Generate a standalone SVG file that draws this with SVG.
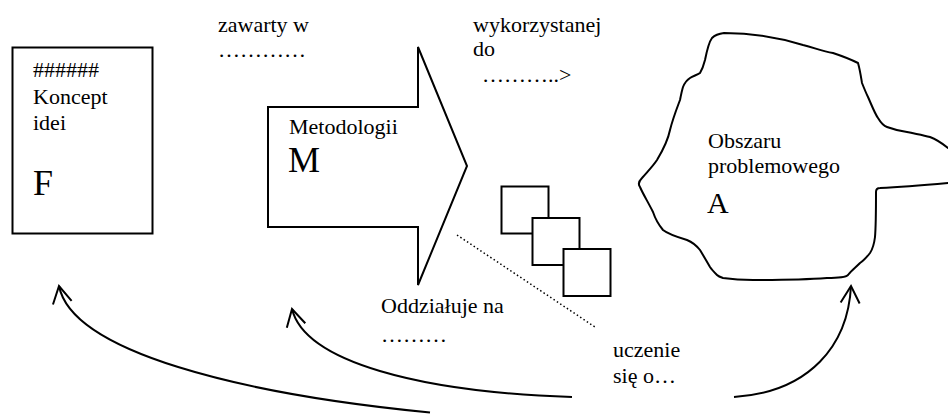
<svg xmlns="http://www.w3.org/2000/svg" width="948" height="414" viewBox="0 0 948 414" font-family="'Liberation Serif', 'Times New Roman', 'DejaVu Serif', serif">
  <style>
    text { font-family: "Liberation Serif", "Times New Roman", "DejaVu Serif", serif; fill: #000; }
    .t { font-size: 22px; }
    .big { font-size: 36px; }
    .shape { fill: #fff; stroke: #000; stroke-width: 2; stroke-linejoin: miter; }
    .blob { fill: #fff; stroke: #000; stroke-width: 2; stroke-linejoin: round; stroke-linecap: round; }
    .curve { fill: none; stroke: #000; stroke-width: 2; }
    .dotted { fill: none; stroke: #000; stroke-width: 1.5; stroke-dasharray: 1.5 2.5; }
  </style>
  <defs>
    <marker id="openArrow" markerUnits="userSpaceOnUse" viewBox="-20 -12 22 24" refX="0" refY="0" markerWidth="22" markerHeight="24" orient="auto" overflow="visible">
      <path d="M-17,-9.5 L0,0 L-17,9.5" fill="none" stroke="#000" stroke-width="2"/>
    </marker>
  </defs>
  <rect width="948" height="414" fill="#fff"/>

  <g id="node-F">
    <rect class="shape" x="12.5" y="47.5" width="140" height="186"/>
    <text class="t" x="33" y="77">######</text>
    <text class="t" x="33" y="104">Koncept</text>
    <text class="t" x="33" y="130">idei</text>
    <text class="big" x="33" y="195">F</text>
  </g>

  <g id="node-M">
    <polygon class="shape" points="268,107 418,107 418,47 467,166 418,285 418,227 268,227"/>
    <text class="t" x="289" y="134">Metodologii</text>
    <text class="big" x="288" y="172">M</text>
  </g>

  <g id="node-A">
    <path class="blob" d="M712,38 Q716,34 724,33 C750,33 780,38 803,45 C815,48 822,51 833,53 C845,57 852,60 858,63 C860,70 861,77 862,83 C864,88 866,93 868,97 C872,106 875,114 878,118 C881,123 884,126 887,127 C895,130 900,131 907,132 C916,134 923,135 930,137 C938,140 943,144 948,148 L965,155 L965,182 L948,183 C925,185 900,187 880,188 Q876,188 876,192 C876,210 876,225 875,237 C874,245 872,250 870,253 C866,258 863,261 860,263 C855,268 851,271 848,275 Q845,278 827,278 C800,280 775,280 753,280 C740,280 730,279 723,278 C720,277 718,276 717,275 C714,272 712,270 710,267 C706,260 703,255 700,250 C696,245 692,242 687,240 C677,237 668,234 663,230 C658,224 655,218 653,212 C648,202 643,194 640,187 Q637,183 642,178 C649,170 653,166 657,160 C663,150 668,140 670,130 C673,118 677,108 680,100 C681,95 682,90 683,87 C685,82 687,80 690,78 C693,76 697,75 700,73 C703,68 704,64 705,60 C707,50 709,42 712,38 Z"/>
    <text class="t" x="708" y="148">Obszaru</text>
    <text class="t" x="708" y="173">problemowego</text>
    <text class="big" x="707" y="213" style="font-size:30px">A</text>
  </g>

  <g id="node-squares">
    <rect class="shape" x="501.5" y="186.5" width="47" height="47"/>
    <rect class="shape" x="532.5" y="218" width="47" height="47"/>
    <rect class="shape" x="563.5" y="249" width="47" height="47"/>
  </g>

  <g id="labels">
    <text class="t" x="218" y="32">zawarty w</text>
    <text class="t" x="218" y="57">…………</text>
    <text class="t" x="473" y="32">wykorzystanej</text>
    <text class="t" x="473" y="56">do</text>
    <text class="t" x="482" y="82">………..&gt;</text>
    <text class="t" x="381" y="313">Oddziałuje na</text>
    <text class="t" x="381" y="342">………</text>
    <text class="t" x="613" y="357">uczenie</text>
    <text class="t" x="613" y="383">się o…</text>
  </g>

  <g id="connectors">
    <line class="dotted" x1="457" y1="235" x2="595" y2="327"/>
    <path class="curve" d="M430,412.5 C240,394 72,352 59,286" marker-end="url(#openArrow)"/>
    <path class="curve" d="M572,397 C420,392 305,362 292,309" marker-end="url(#openArrow)"/>
    <path class="curve" d="M734,397 C810,392 848,345 851,286" marker-end="url(#openArrow)"/>
  </g>
</svg>
